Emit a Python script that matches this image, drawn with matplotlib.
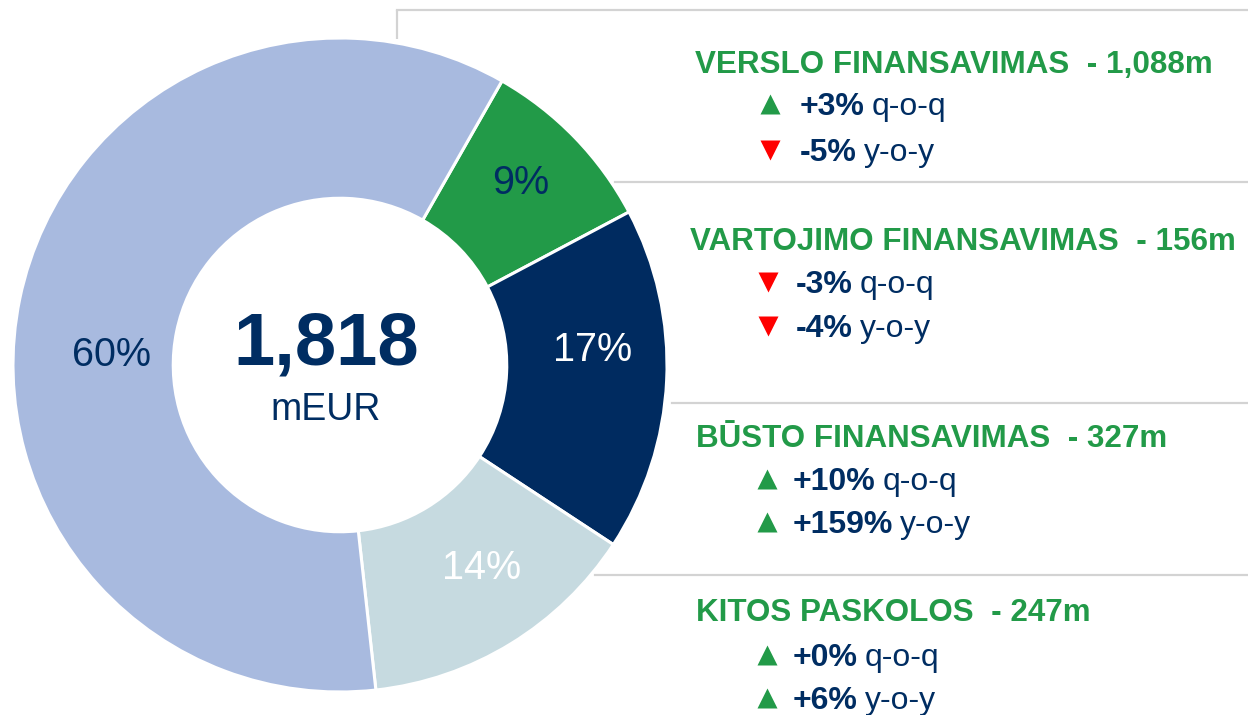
import matplotlib
matplotlib.use("Agg")
import matplotlib.pyplot as plt

plt.rcParams['font.family'] = ['Liberation Sans', 'DejaVu Sans']

# donut shares, clockwise from the top-right wedge
shares = [9, 17, 14, 60]
wedge_colors = ['#229A48', '#002B60', '#C6DAE0', '#A8BADF']
label_colors = ['#002D62', 'white', 'white', '#002D62']

total = "1,818"
unit = "mEUR"

# right-hand panel
headers = ["VERSLO FINANSAVIMAS", "VARTOJIMO FINANSAVIMAS", "BŪSTO FINANSAVIMAS", "KITOS PASKOLOS"]
amounts = ["1,088m", "156m", "327m", "247m"]
qoq = [3, -3, 10, 0]
yoy = [-5, -4, 159, 6]

GREEN = '#229A48'
NAVY = '#002D62'
RED = '#FF0000'
GREY = '#D3D3D3'

W, H = 1248, 715
fig = plt.figure(figsize=(W / 100, H / 100), dpi=100)

# donut axes, placed in pixels: x 13..667, y 38..692 (from top)
ax = fig.add_axes([13 / W, (H - 692) / H, 654 / W, 654 / H])
wedges, _ = ax.pie(shares, colors=wedge_colors, startangle=60.3, counterclock=False,
                   radius=1, wedgeprops=dict(width=0.49, edgecolor='white', linewidth=2.2))
ax.set_xlim(-1, 1)
ax.set_ylim(-1, 1)
ax.axis('off')

# overlay in pixel coordinates (y down)
ov = fig.add_axes([0, 0, 1, 1], zorder=5)
ov.set_xlim(0, W)
ov.set_ylim(H, 0)
ov.axis('off')
ov.patch.set_alpha(0)

# wedge percentage labels
label_pos = [(521, 183), (593, 350), (482, 568), (111, 355)]
for v, (x, y), c in zip(shares, label_pos, label_colors):
    ov.text(x, y, f"{v}%", fontsize=28.5, color=c, ha='center', va='center')

# centre total
ov.text(326, 365, total, fontsize=53.5, fontweight='bold', color=NAVY, ha='center', va='baseline')
ov.text(326, 420, unit, fontsize=27, color=NAVY, ha='center', va='baseline')

# separator lines
ov.plot([397, 397], [9.5, 39], color=GREY, lw=1.6, solid_capstyle='butt')
ov.plot([397, W], [9.5, 9.5], color=GREY, lw=1.6)
ov.plot([615, W], [182, 182], color=GREY, lw=1.6)
ov.plot([672, W], [403, 403], color=GREY, lw=1.6)
ov.plot([595, W], [575, 575], color=GREY, lw=1.6)

renderer = fig.canvas.get_renderer()
inv = ov.transData.inverted()


def change_row(x_tri, x_text, y, val, period):
    up = val >= 0
    ov.plot(x_tri, y, marker='^' if up else 'v', ms=15, color=GREEN if up else RED,
            mec='none', ls='none')
    sign = '+' if up else '-'
    t = ov.text(x_text, y + 11, f"{sign}{abs(val)}%", fontsize=23, fontweight='bold',
                color=NAVY, ha='left', va='baseline')
    bb = t.get_window_extent(renderer)
    x_end = inv.transform((bb.x1, bb.y0))[0]
    ov.text(x_end + 7, y + 11, period, fontsize=23, color=NAVY, ha='left', va='baseline')


header_y = [62, 239, 436, 610]
header_x = [695, 690, 696, 696]
row_y = [(104, 150), (282, 326), (479, 522), (655, 698)]
tri_x = [770, 768, 767, 767]
text_x = [800, 796, 793, 793]

for i in range(len(headers)):
    ov.text(header_x[i], header_y[i] + 11, f"{headers[i]}  - {amounts[i]}", fontsize=22.6,
            fontweight='bold', color=GREEN, ha='left', va='baseline')
    change_row(tri_x[i], text_x[i], row_y[i][0], qoq[i], "q-o-q")
    change_row(tri_x[i], text_x[i], row_y[i][1], yoy[i], "y-o-y")

fig.savefig("out.png", dpi=100, facecolor='white')
